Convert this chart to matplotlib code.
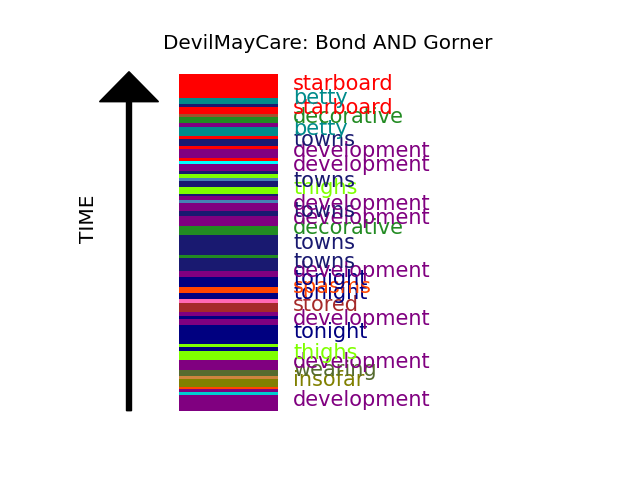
import matplotlib
matplotlib.use("Agg")
import matplotlib.pyplot as plt

title = "DevilMayCare: Bond AND Gorner"

# segments listed from the top of the bar (latest) down to the bottom (earliest)
words = ["starboard", "betty", "towns", "starboard", "", "decorative", "development",
         "betty", "starboard", "towns", "starboard", "development", "starboard", "",
         "development", "towns", "thighs", "", "towns", "thighs", "towns",
         "development", "", "development", "towns", "development", "decorative",
         "towns", "decorative", "towns", "development", "tonight", "spasms",
         "tonight", "", "stored", "development", "tonight", "development",
         "tonight", "thighs", "tonight", "thighs", "development", "wearing", "",
         "insofar", "spasms", "development", "", "development"]
durations = [24, 5.3, 3.4, 6.6, 3.4, 6, 4,
             8.6, 3.4, 7.3, 2.7, 9.3, 3, 3.3,
             6.7, 3.3, 3.4, 3.3, 5.3, 7.4, 2,
             4, 3.3, 7.3, 5.4, 10, 9.3,
             19.7, 2.6, 13.4, 6, 10, 6,
             6, 4, 9.3, 3.3, 3.4, 6,
             19, 3.3, 4, 8.7, 10, 6, 3.3,
             7.3, 2.7, 2.7, 3.3, 15.5]
colors = ["red", "darkcyan", "midnightblue", "red", "sienna", "forestgreen", "purple",
          "darkcyan", "red", "midnightblue", "red", "purple", "red", "cyan",
          "purple", "midnightblue", "chartreuse", "steelblue", "midnightblue", "chartreuse", "midnightblue",
          "purple", "steelblue", "purple", "midnightblue", "purple", "forestgreen",
          "midnightblue", "forestgreen", "midnightblue", "purple", "navy", "orangered",
          "navy", "hotpink", "brown", "purple", "navy", "purple",
          "navy", "chartreuse", "navy", "chartreuse", "purple", "darkolivegreen", "peru",
          "olive", "orangered", "purple", "darkturquoise", "purple"]

label_min = 5.0

fig = plt.figure(figsize=(6.4, 4.8), dpi=100)
ax = fig.add_subplot(111)
ax.set_xlim(0, 496)
ax.set_ylim(-16.5, 353.1)
ax.axis("off")

# chronological order: bottom first
w = words[::-1]
d = durations[::-1]
c = colors[::-1]
bottom = 0.0
bar_x, bar_w = 148.5, 99
for word, dur, col in zip(w, d, c):
    ax.bar(bar_x, dur, width=bar_w, bottom=bottom, color=col, edgecolor="none")
    if word and dur >= label_min:
        ax.text(213, bottom + dur / 2 + 2.5, word, color=col, fontsize=15,
                ha="left", va="center")
    bottom += dur

ax.arrow(49, 0, 0, 339, width=5, head_width=59, head_length=30,
         length_includes_head=True, color="black")
ax.text(9, 192, "TIME", rotation=90, fontsize=14.4, ha="center", va="center")
ax.set_title(title, fontsize=14.4)

fig.savefig("out.png", dpi=100)
